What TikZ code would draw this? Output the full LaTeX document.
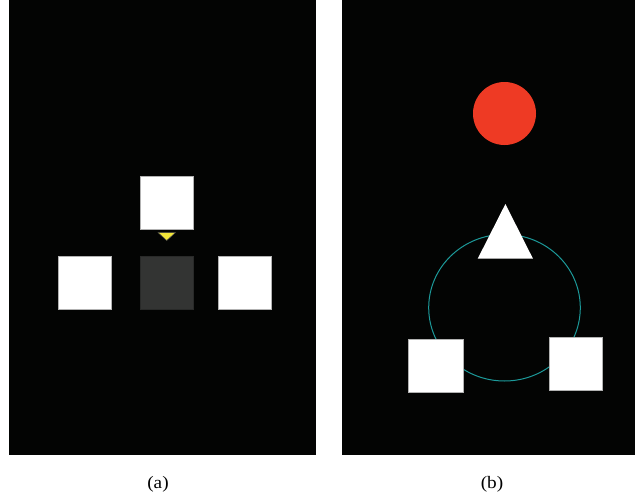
\documentclass[tikz,border=0pt]{standalone}
\usepackage{fontspec}
\setmainfont{Liberation Serif}
\usetikzlibrary{shapes.geometric}
\definecolor{bgdark}{HTML}{030403}
\definecolor{tilegray}{HTML}{333433}
\definecolor{tealc}{HTML}{1C9A9A}
\definecolor{redc}{HTML}{EE3A24}
\definecolor{yel}{HTML}{F2E63A}
\tikzset{
  tile/.style={fill=white, draw=gray!60, line width=0.6pt, minimum width=53pt, minimum height=53pt, inner sep=0pt, outer sep=0pt},
  darktile/.style={tile, fill=tilegray, draw=tilegray!80!black},
  panel/.style={fill=bgdark, draw=none},
  caption/.style={font=\fontsize{17.5}{20}\selectfont, inner sep=0pt, xscale=1.1}
}
\begin{document}
\begin{tikzpicture}[x=1pt,y=-1pt]
\useasboundingbox (0,0) rectangle (635,498);
% panels
\fill[panel] (9,0) rectangle (316,455);
\fill[panel] (342,0) rectangle (635,455);
% panel (a)
\node[tile] (atop) at (166.5,202.5) {};
\node[tile] (aleft) at (84.5,282.5) {};
\node[darktile] (acenter) at (166.5,282.5) {};
\node[tile] (aright) at (244.5,282.5) {};
\fill[yel, draw=black!70, line width=0.5pt] (158,232.5) -- (175.5,232.5) -- (166.7,240.5) -- cycle;
% panel (b)
\node[circle, fill=redc, minimum size=63pt, inner sep=0pt] (ball) at (504.5,113.5) {};
\draw[tealc, line width=1pt] (504.5,307.7) ellipse [x radius=75.8, y radius=73.3];
\coordinate (ring) at (504.5,307.7);
\fill[white] (505.4,204) -- (533,258.7) -- (477.7,258.7) -- cycle;
\node[tile, minimum width=55.4pt] (bleft) at (436,365.8) {};
\node[tile] (bright) at (575.5,364) {};
% captions
\node[caption] (capa) at (158,484) {(a)};
\node[caption] (capb) at (492,484) {(b)};
\end{tikzpicture}
\end{document}
